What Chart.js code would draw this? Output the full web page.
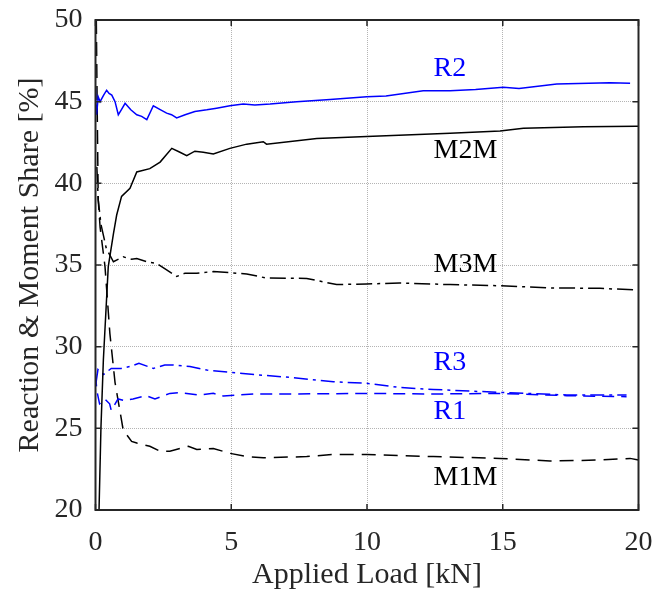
<!DOCTYPE html>
<html>
<head>
<meta charset="utf-8">
<script src="https://cdn.jsdelivr.net/npm/chart.js@4/dist/chart.umd.min.js"></script>
<style>
  html, body { margin: 0; padding: 0; background: #fff; }
</style>
</head>
<body>
<canvas id="shareChart" width="653" height="596"></canvas>
<script>
/* globals Chart:false */

// Applied load [kN] and share [%] per curve
const loadR2 = [0, 0.02, 0.04, 0.1, 0.17, 0.3, 0.41, 0.5, 0.6, 0.72, 0.84, 0.95, 1.09, 1.3, 1.52, 1.7, 1.89, 2.13, 2.4, 2.62, 2.8, 2.99, 3.3, 3.66, 4.1, 4.46, 4.95, 5.44, 5.87, 6.43, 7.41, 8.64, 9.99, 10.7, 12.07, 13.06, 14.0, 15.02, 15.6, 16.99, 18.95, 19.69]
const shareR2 = [45.8, 44.5, 44.2, 45.3, 45.0, 45.4, 45.7, 45.5, 45.4, 45.0, 44.2, 44.5, 44.9, 44.5, 44.2, 44.1, 43.9, 44.75, 44.5, 44.3, 44.2, 44.0, 44.2, 44.4, 44.5, 44.6, 44.75, 44.85, 44.8, 44.85, 45.0, 45.14, 45.3, 45.35, 45.67, 45.67, 45.75, 45.88, 45.8, 46.08, 46.16, 46.12]

const loadM2M = [0.13, 0.2, 0.29, 0.47, 0.66, 0.78, 0.96, 1.27, 1.52, 2.0, 2.38, 2.81, 3.11, 3.36, 3.66, 3.97, 4.34, 4.95, 5.57, 6.18, 6.3, 8.15, 9.99, 13.06, 14.9, 15.76, 17.97, 19.93, 20]
const shareM2M = [20, 25, 29.2, 34.9, 36.9, 38.06, 39.2, 39.7, 40.7, 40.9, 41.3, 42.14, 41.9, 41.7, 41.97, 41.9, 41.8, 42.14, 42.4, 42.55, 42.4, 42.75, 42.86, 43.06, 43.2, 43.37, 43.47, 43.5, 43.5]

const loadM3M = [0.05, 0.1, 0.2, 0.4, 0.66, 1.02, 1.33, 1.52, 1.89, 2.25, 2.62, 2.99, 3.3, 3.73, 4.34, 4.95, 5.57, 6.3, 7.78, 8.88, 9.99, 11.2, 13.06, 14.9, 16.74, 18.58, 19.93]
const shareM3M = [41, 39, 37.5, 36, 35.2, 35.5, 35.35, 35.4, 35.2, 35.1, 34.7, 34.3, 34.5, 34.5, 34.6, 34.53, 34.45, 34.2, 34.18, 33.8, 33.84, 33.9, 33.8, 33.73, 33.6, 33.57, 33.47]

const loadR3 = [0.02, 0.09, 0.3, 0.58, 0.95, 1.3, 1.6, 2.13, 2.55, 2.87, 3.48, 4.1, 4.95, 5.94, 7.29, 8.76, 9.99, 11.2, 12.44, 14.9, 17.36, 19.56]
const shareR3 = [27.8, 28.6, 28.3, 28.67, 28.67, 28.8, 28.98, 28.67, 28.88, 28.88, 28.78, 28.57, 28.43, 28.28, 28.1, 27.85, 27.76, 27.5, 27.38, 27.2, 27.04, 27.04]

const loadR1 = [0.0, 0.05, 0.15, 0.34, 0.52, 0.58, 0.83, 1.07, 1.38, 1.87, 2.19, 2.74, 3.11, 3.85, 4.34, 4.71, 5.81, 7.16, 9.99, 12.44, 14.9, 17.36, 19.56]
const shareR1 = [28.3, 27.3, 26.5, 26.8, 26.5, 26.1, 26.8, 26.7, 26.8, 27.0, 26.8, 27.14, 27.18, 27.04, 27.14, 26.98, 27.1, 27.1, 27.14, 27.1, 27.14, 27.0, 26.94]

const loadM1M = [0.03, 0.06, 0.1, 0.17, 0.35, 0.53, 0.72, 1.02, 1.33, 1.52, 2.0, 2.38, 2.74, 3.42, 3.73, 4.34, 4.95, 5.57, 6.18, 7.78, 8.76, 9.99, 12.44, 14.9, 16.74, 18.58, 19.69, 20]
const shareM1M = [50, 45, 39, 37.3, 34.9, 30.8, 27.8, 24.9, 24.2, 24.1, 23.9, 23.6, 23.6, 23.9, 23.7, 23.77, 23.47, 23.27, 23.2, 23.27, 23.4, 23.4, 23.27, 23.16, 23.0, 23.06, 23.16, 23.06]

// curve names written inside the plot, anchored at (load, share)
const labelNames = ['R2', 'M2M', 'M3M', 'R3', 'R1', 'M1M']
const labelLoad = [12.45, 12.45, 12.45, 12.45, 12.45, 12.45]
const labelShare = [47, 42, 35, 29, 26, 22]

const xTicks = [0, 5, 10, 15, 20]
const yTicks = [20, 25, 30, 35, 40, 45, 50]

const BLUE = '#0000ff'
const BLACK = '#000000'
const AXIS = '#262626'
const FONT = "'Liberation Serif', 'Times New Roman', serif"

const pts = (xs, ys) => xs.map((x, i) => ({ x, y: ys[i] }))

const line = (label, xs, ys, color, dash) => ({
  label,
  data: pts(xs, ys),
  showLine: true,
  borderColor: color,
  borderWidth: 1.5,
  borderDash: dash,
  pointRadius: 0,
  tension: 0,
  fill: false
})

// no extra room for edge tick labels: the plot box is fixed
const noEdgePadding = s => {
  s.paddingTop = 0
  s.paddingBottom = 0
  s.paddingLeft = 0
  s.paddingRight = 0
}

// box round the plot with inward tick marks, plus the curve names
const framePlugin = {
  id: 'frame',
  afterDatasetsDraw (chart) {
    const { ctx, chartArea: a, scales } = chart
    ctx.save()
    ctx.strokeStyle = AXIS
    ctx.lineWidth = 2
    ctx.strokeRect(a.left, a.top, a.right - a.left, a.bottom - a.top)
    ctx.lineWidth = 1.5
    ctx.beginPath()
    xTicks.forEach(v => {
      const px = scales.x.getPixelForValue(v)
      ctx.moveTo(px, a.bottom); ctx.lineTo(px, a.bottom - 6)
      ctx.moveTo(px, a.top); ctx.lineTo(px, a.top + 6)
    })
    yTicks.forEach(v => {
      const py = scales.y.getPixelForValue(v)
      ctx.moveTo(a.left, py); ctx.lineTo(a.left + 6, py)
      ctx.moveTo(a.right, py); ctx.lineTo(a.right - 6, py)
    })
    ctx.stroke()

    ctx.font = '28px ' + FONT
    ctx.textAlign = 'left'
    ctx.textBaseline = 'middle'
    labelNames.forEach((name, i) => {
      ctx.fillStyle = name.startsWith('R') ? BLUE : BLACK
      ctx.fillText(name, scales.x.getPixelForValue(labelLoad[i]), scales.y.getPixelForValue(labelShare[i]))
    })
    ctx.restore()
  }
}

const ctx = document.getElementById('shareChart')
// eslint-disable-next-line no-unused-vars
const myChart = new Chart(ctx, {
  type: 'scatter',
  data: {
    datasets: [
      line('R2', loadR2, shareR2, BLUE, []),
      line('M2M', loadM2M, shareM2M, BLACK, []),
      line('M3M', loadM3M, shareM3M, BLACK, [16, 5, 3, 5]),
      line('R3', loadR3, shareR3, BLUE, [14, 5, 3, 5]),
      line('R1', loadR1, shareR1, BLUE, [12, 7]),
      line('M1M', loadM1M, shareM1M, BLACK, [14, 8])
    ]
  },
  options: {
    responsive: false,
    animation: false,
    events: [],
    layout: { padding: { top: 20, right: 14.5, left: 0, bottom: 0 } },
    plugins: {
      legend: { display: false },
      tooltip: { enabled: false }
    },
    scales: {
      x: {
        type: 'linear',
        min: 0,
        max: 20,
        afterFit: s => { s.height = 86; noEdgePadding(s) },
        afterBuildTicks: s => { s.ticks = xTicks.map(v => ({ value: v })) },
        grid: { color: '#b4b4b4', lineWidth: 1, drawTicks: false },
        border: { display: false, dash: [1, 1] },
        ticks: { color: AXIS, padding: 16, maxRotation: 0, font: { family: FONT, size: 28 } },
        title: {
          display: true,
          text: 'Applied Load [kN]',
          color: AXIS,
          padding: { top: 0, bottom: 3 },
          font: { family: FONT, size: 30 }
        }
      },
      y: {
        type: 'linear',
        min: 20,
        max: 50,
        afterFit: s => { s.width = 95.5; noEdgePadding(s) },
        afterBuildTicks: s => { s.ticks = yTicks.map(v => ({ value: v })) },
        grid: { color: '#b4b4b4', lineWidth: 1, drawTicks: false },
        border: { display: false, dash: [1, 1] },
        ticks: { color: AXIS, padding: 13, font: { family: FONT, size: 28 } },
        title: {
          display: true,
          text: 'Reaction & Moment Share [%]',
          color: AXIS,
          padding: { top: 12, bottom: 0 },
          font: { family: FONT, size: 30 }
        }
      }
    }
  },
  plugins: [framePlugin]
})
</script>
</body>
</html>
